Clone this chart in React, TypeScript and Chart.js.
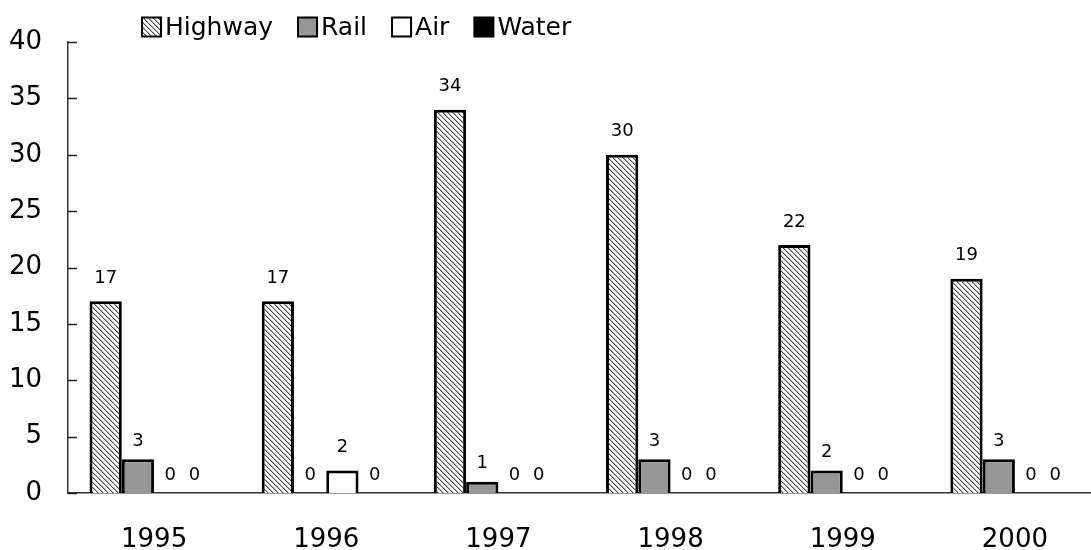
import React, { useEffect, useRef } from "react";
import { Chart, registerables } from "chart.js";
Chart.register(...registerables);

const years = ["1995", "1996", "1997", "1998", "1999", "2000"];
const highway = [17, 17, 34, 30, 22, 19];
const rail = [3, 0, 1, 3, 2, 3];
const air = [0, 2, 0, 0, 0, 0];
const water = [0, 0, 0, 0, 0, 0];
const seriesNames = ["Highway", "Rail", "Air", "Water"];
const yMax = 40;
const yStep = 5;

const FONT = "'DejaVu Sans', sans-serif";

function makeHatch(): CanvasPattern | string {
  const n = 5;
  const c = document.createElement("canvas");
  c.width = n;
  c.height = n;
  const g = c.getContext("2d");
  if (!g) return "#ccc";
  g.fillStyle = "#ffffff";
  g.fillRect(0, 0, n, n);
  for (let i = 0; i < n; i++) {
    g.fillStyle = "#4a4a4a";
    g.fillRect(i, i, 1, 1);
    g.fillStyle = "#b4b4b4";
    g.fillRect((i + 1) % n, i, 1, 1);
  }
  return g.createPattern(c, "repeat") || "#ccc";
}

const legendPlugin = {
  id: "customLegend",
  afterDraw(chart: any) {
    const ctx = chart.ctx;
    ctx.save();
    ctx.font = `25px ${FONT}`;
    ctx.textBaseline = "middle";
    ctx.textAlign = "left";
    let x = 142;
    const yc = 27;
    const box = 19;
    chart.data.datasets.forEach((ds: any) => {
      ctx.fillStyle = ds.backgroundColor;
      ctx.fillRect(x, yc - box / 2, box, box);
      ctx.lineWidth = 2;
      ctx.strokeStyle = "#000";
      ctx.strokeRect(x, yc - box / 2, box, box);
      ctx.fillStyle = "#000";
      const tx = x + box + 4;
      ctx.fillText(ds.label, tx, yc + 1);
      x = tx + ctx.measureText(ds.label).width + 25;
    });
    ctx.restore();
  },
};

const yTickPlugin = {
  id: "inwardTicks",
  afterDraw(chart: any) {
    const ctx = chart.ctx;
    const ys = chart.scales.y;
    const left = chart.chartArea.left;
    ctx.save();
    ctx.strokeStyle = "#222";
    ctx.lineWidth = 1.5;
    ys.ticks.forEach((t: any) => {
      const py = Math.round(ys.getPixelForValue(t.value)) + 0.5;
      ctx.beginPath();
      ctx.moveTo(left, py);
      ctx.lineTo(left + 9, py);
      ctx.stroke();
    });
    ctx.restore();
  },
};

const dataLabelPlugin = {
  id: "dataLabels",
  afterDatasetsDraw(chart: any) {
    const ctx = chart.ctx;
    ctx.save();
    ctx.font = `18px ${FONT}`;
    ctx.fillStyle = "#000";
    ctx.textAlign = "center";
    ctx.textBaseline = "middle";
    chart.data.datasets.forEach((ds: any, di: number) => {
      const meta = chart.getDatasetMeta(di);
      meta.data.forEach((el: any, i: number) => {
        const v = ds.data[i];
        let dx = 0;
        if (di === 3 && chart.data.datasets[2].data[i] === 0) dx = -8;
        const off = v === 0 ? 18 : di === 1 ? 18 : 23;
        ctx.fillText(String(v), el.x + dx, el.y - off);
      });
    });
    ctx.restore();
  },
};

export default function App() {
  const ref = useRef<HTMLCanvasElement>(null);
  useEffect(() => {
    if (!ref.current) return;
    const hatch = makeHatch();
    const chart = new Chart(ref.current, {
      type: "bar",
      data: {
        labels: years,
        datasets: [
          { label: seriesNames[0], data: highway, backgroundColor: hatch as any },
          { label: seriesNames[1], data: rail, backgroundColor: "#969696" },
          { label: seriesNames[2], data: air, backgroundColor: "#ffffff" },
          { label: seriesNames[3], data: water, backgroundColor: "#000000" },
        ].map((d) => ({
          ...d,
          borderColor: "#000",
          borderWidth: 3,
          categoryPercentage: 0.75,
          barPercentage: 1.0,
        })),
      },
      options: {
        animation: false,
        responsive: false,
        layout: { padding: { top: 42, left: 0, right: 0, bottom: 0 } },
        plugins: { legend: { display: false }, tooltip: { enabled: false } },
        scales: {
          x: {
            grid: { display: false, drawTicks: false },
            border: { display: true, color: "#333", width: 1.5 },
            ticks: { font: { family: FONT, size: 26 }, color: "#000", padding: 32 },
            afterFit: (s: any) => {
              s.height = 57;
            },
          },
          y: {
            min: 0,
            max: yMax,
            grid: { display: false, drawTicks: false },
            border: { display: true, color: "#333", width: 1.5 },
            ticks: {
              stepSize: yStep,
              font: { family: FONT, size: 26 },
              color: "#000",
              padding: 26,
            },
            afterFit: (s: any) => {
              s.width = 68;
            },
          },
        },
      },
      plugins: [legendPlugin, yTickPlugin, dataLabelPlugin],
    });
    return () => chart.destroy();
  }, []);
  return (
    <div
      style={{
        position: "fixed",
        left: 0,
        top: 0,
        width: 1091,
        height: 550,
        overflow: "hidden",
        background: "#fff",
      }}
    >
      <canvas
        ref={ref}
        width={1101}
        height={550}
        style={{ display: "block", width: 1101, height: 550 }}
      />
    </div>
  );
}
